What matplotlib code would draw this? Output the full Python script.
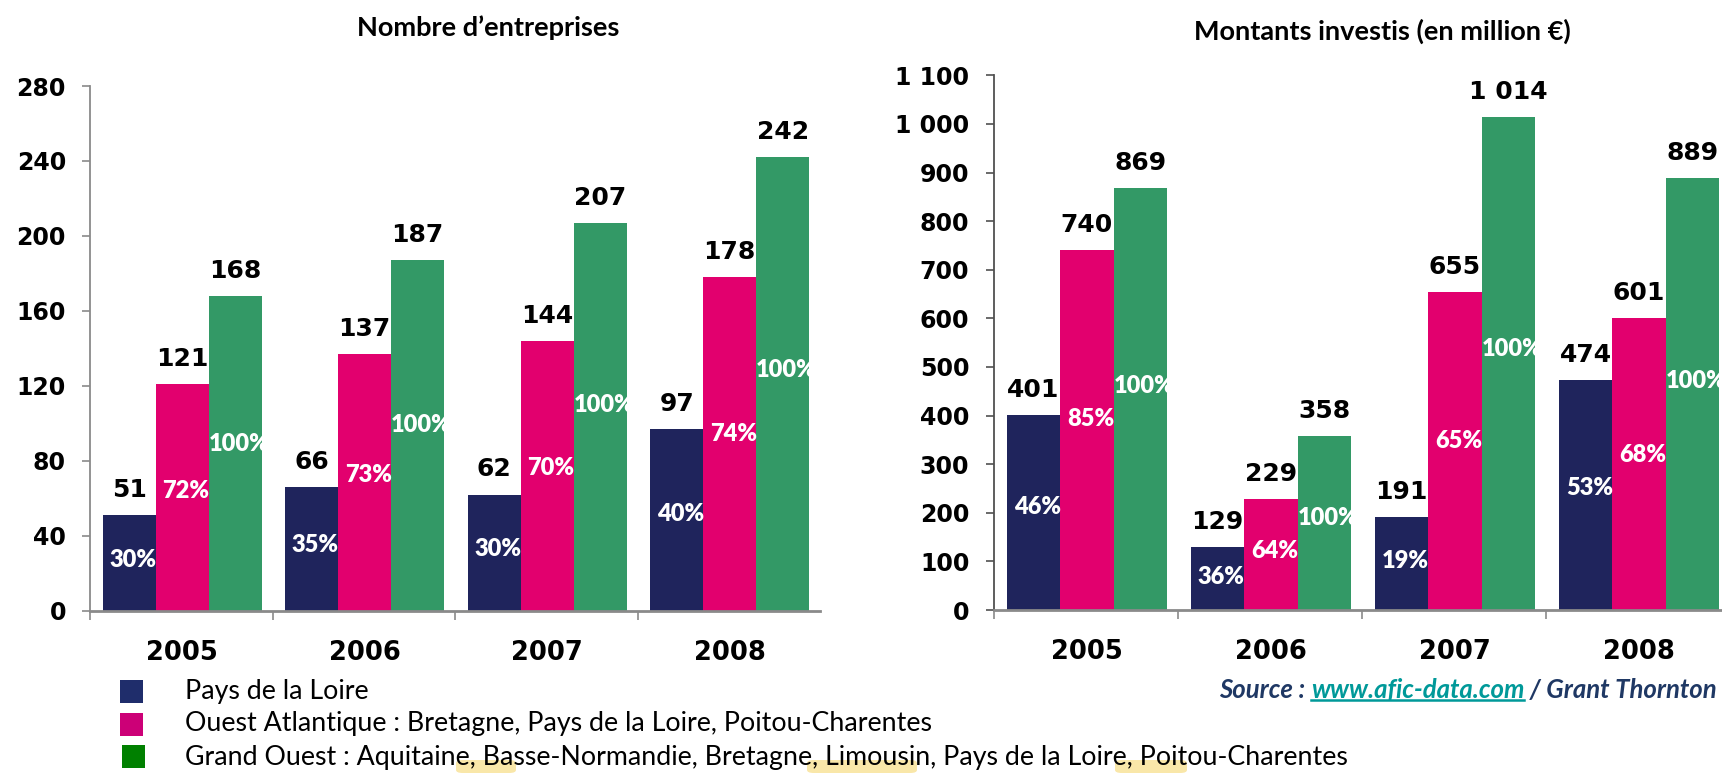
import matplotlib
matplotlib.use("Agg")
import matplotlib.pyplot as plt
import numpy as np
from matplotlib.patches import Rectangle, FancyBboxPatch
from matplotlib.lines import Line2D

# ---------------- data ----------------
years = ["2005", "2006", "2007", "2008"]
series_names = [
    "Pays de la Loire",
    "Ouest Atlantique : Bretagne, Pays de la Loire, Poitou-Charentes",
    "Grand Ouest : Aquitaine, Basse-Normandie, Bretagne, Limousin, Pays de la Loire, Poitou-Charentes",
]
title_left = "Nombre d\u2019entreprises"
title_right = "Montants investis (en million \u20ac)"

nb_pdl = [51, 66, 62, 97]
nb_oa = [121, 137, 144, 178]
nb_go = [168, 187, 207, 242]
nb_pct_pdl = ["30%", "35%", "30%", "40%"]
nb_pct_oa = ["72%", "73%", "70%", "74%"]
nb_pct_go = ["100%", "100%", "100%", "100%"]
nb_ticks = [0, 40, 80, 120, 160, 200, 240, 280]

mt_pdl = [401, 129, 191, 474]
mt_oa = [740, 229, 655, 601]
mt_go = [869, 358, 1014, 889]
mt_pct_pdl = ["46%", "36%", "19%", "53%"]
mt_pct_oa = ["85%", "64%", "65%", "68%"]
mt_pct_go = ["100%", "100%", "100%", "100%"]
mt_ticks = [0, 100, 200, 300, 400, 500, 600, 700, 800, 900, 1000, 1100]

source_parts = ["Source : ", "www.afic-data.com", " / Grant Thornton"]

# ---------------- style ----------------
C_NAVY = "#1F245C"
C_PINK = "#E2006E"
C_GREEN = "#339966"
LEG_COLORS = ["#1F2D6B", "#CC0077", "#008000"]
NUM_FONT = ["DejaVu Sans"]
TXT_FONT = ["Lato", "DejaVu Sans"]
AXIS_GRAY = "#8A8A8A"

W, H = 1722, 773
fig = plt.figure(figsize=(W / 100, H / 100), dpi=100)
fig.patch.set_facecolor("white")


def px_rect(x0, x1, ytop, ybot):
    return [x0 / W, 1 - ybot / H, (x1 - x0) / W, (ybot - ytop) / H]


def fmt(v):
    return f"{v:,}".replace(",", " ")


def draw_panel(ax, vals, pcts, ticks, spine_color, tick_pad):
    n = len(years)
    centers = np.arange(n) + 0.505
    bw = 0.29
    colors = [C_NAVY, C_PINK, C_GREEN]
    for k, (v, p, c) in enumerate(zip(vals, pcts, colors)):
        xs = centers + (k - 1) * bw
        ax.bar(xs, v, width=bw, color=c, linewidth=0, zorder=2)
        for x, val, lab in zip(xs, v, p):
            ax.annotate(fmt(val), xy=(x, val), xytext=(0, 13), textcoords="offset points",
                        ha="center", va="baseline", fontsize=18, fontweight="bold",
                        family=NUM_FONT, color="black", zorder=4)
            ax.text(x + 0.02, val * 0.53, lab, ha="center", va="center", fontsize=17,
                    fontweight="heavy", family=TXT_FONT, color="white", zorder=3,
                    clip_on=False)
    ax.set_xlim(0, n)
    ax.set_ylim(ticks[0], ticks[-1])
    ax.set_yticks(ticks)
    ax.set_yticklabels([fmt(t) for t in ticks], fontsize=17, fontweight="bold", family=NUM_FONT)
    ax.set_xticks(centers)
    ax.set_xticklabels(years, fontsize=18.5, fontweight="bold", family=NUM_FONT)
    ax.set_xticks(np.arange(n), minor=True)
    ax.tick_params(axis="x", which="major", length=0, pad=21)
    ax.tick_params(axis="x", which="minor", length=6.5, width=1.2, color=AXIS_GRAY, direction="out")
    ax.tick_params(axis="y", length=5.8, width=1.2, color=spine_color, direction="out", pad=tick_pad)
    for s in ["top", "right"]:
        ax.spines[s].set_visible(False)
    ax.spines["left"].set_color(spine_color)
    ax.spines["left"].set_linewidth(1.3)
    ax.spines["bottom"].set_color(AXIS_GRAY)
    ax.spines["bottom"].set_linewidth(2)
    ax.set_facecolor("none")


ax1 = fig.add_axes(px_rect(90, 820, 86, 610.7))
draw_panel(ax1, [nb_pdl, nb_oa, nb_go], [nb_pct_pdl, nb_pct_oa, nb_pct_go], nb_ticks,
           AXIS_GRAY, 11.5)
ax2 = fig.add_axes(px_rect(994, 1730, 75.3, 610))
draw_panel(ax2, [mt_pdl, mt_oa, mt_go], [mt_pct_pdl, mt_pct_oa, mt_pct_go], mt_ticks,
           "#505050", 12)

# titles
fig.text(488 / W, 1 - 28 / H, title_left, ha="center", va="center", fontsize=19.5,
         fontweight="bold", family=TXT_FONT)
fig.text(1382 / W, 1 - 31 / H, title_right, ha="center", va="center", fontsize=19.5,
         fontweight="bold", family=TXT_FONT)

# legend
leg_sq = [(120, 680), (120, 713), (122, 745)]
leg_ty = [692, 723, 757]
for (sx, sy), ty, c, name in zip(leg_sq, leg_ty, LEG_COLORS, series_names):
    fig.patches.append(Rectangle((sx / W, 1 - (sy + 23) / H), 23 / W, 23 / H,
                                 transform=fig.transFigure, facecolor=c, edgecolor="none"))
    fig.text(185 / W, 1 - ty / H, name, ha="left", va="center", fontsize=19.3,
             family=TXT_FONT, color="black")

# yellow background blobs at bottom edge
for x0, x1 in [(456, 516), (807, 917), (1115, 1187)]:
    fig.patches.append(FancyBboxPatch((x0 / W, 0), (x1 - x0) / W, 13 / H,
                                      boxstyle="round,pad=0,rounding_size=0.004",
                                      transform=fig.transFigure, facecolor="#F8DF8C",
                                      edgecolor="none", alpha=0.75, zorder=0))

# source line (right aligned, mixed colours)
fig.canvas.draw()
renderer = fig.canvas.get_renderer()
x_right = 1717
ysrc = 1 - 690 / H
src_colors = ["#1F3864", "#009999", "#1F3864"]
cur = x_right
for part, col in reversed(list(zip(source_parts, src_colors))):
    t = fig.text(cur / W, ysrc, part, ha="right", va="center", fontsize=18.5,
                 fontweight="bold", style="italic", family=TXT_FONT, color=col)
    bb = t.get_window_extent(renderer)
    if part.startswith("www"):
        yline = bb.y0 + 2
        fig.lines.append(Line2D([bb.x0 / W, bb.x1 / W], [yline / H, yline / H],
                                transform=fig.transFigure, color=col, linewidth=1.8))
    cur = cur - bb.width

fig.savefig("out.png", dpi=100)
